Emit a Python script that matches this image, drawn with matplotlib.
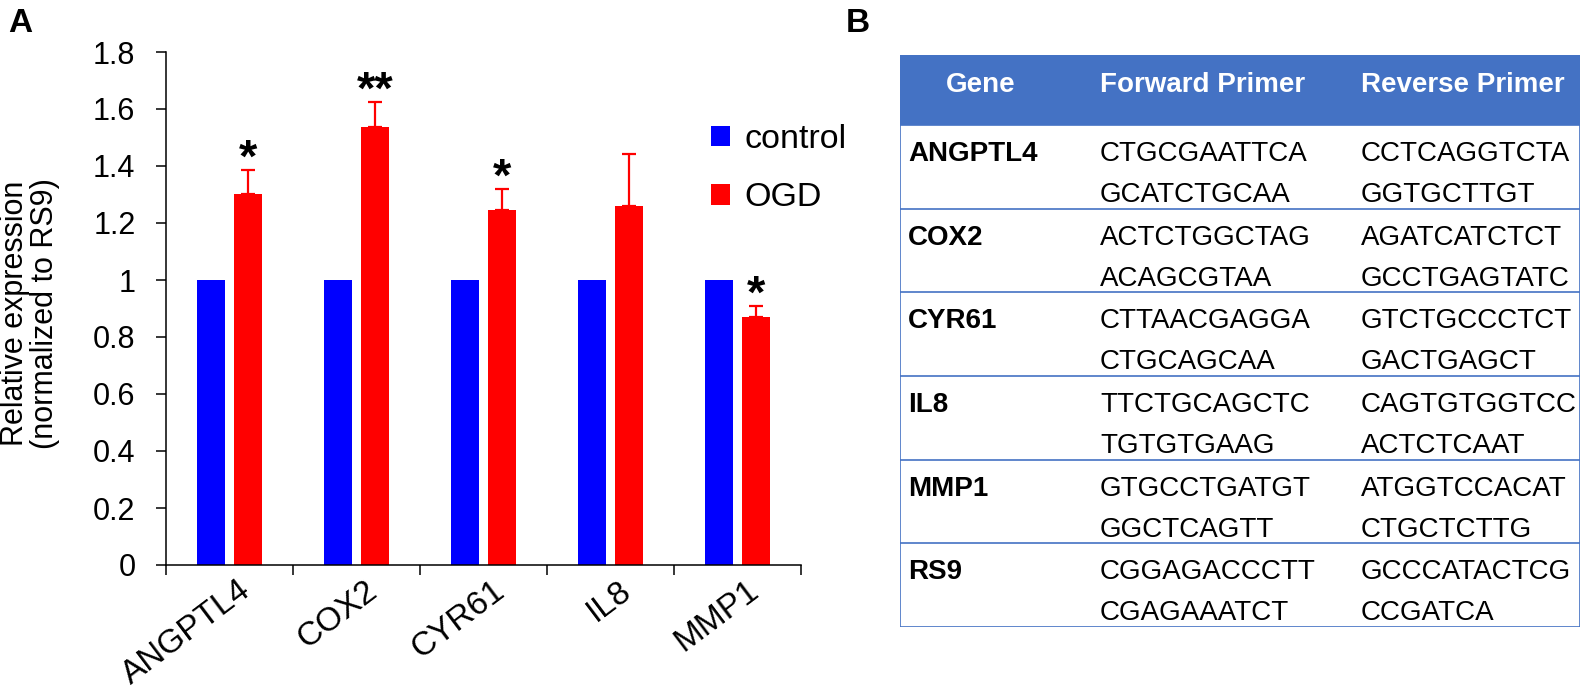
import numpy as np
import matplotlib
matplotlib.use('Agg')
import matplotlib.pyplot as plt
from matplotlib.patches import Rectangle
from matplotlib.ticker import FuncFormatter
from matplotlib.transforms import ScaledTranslation

plt.rcParams['font.family'] = ['Liberation Sans', 'DejaVu Sans']

# bar chart data
genes = ['ANGPTL4', 'COX2', 'CYR61', 'IL8', 'MMP1']
control = [1.0, 1.0, 1.0, 1.0, 1.0]
ogd = [1.302, 1.536, 1.246, 1.26, 0.87]
ogd_err = [0.084, 0.09, 0.074, 0.183, 0.04]
stars = ['*', '**', '*', '', '*']

# primer table
table_genes = ['ANGPTL4', 'COX2', 'CYR61', 'IL8', 'MMP1', 'RS9']
forward = [('CTGCGAATTCA', 'GCATCTGCAA'), ('ACTCTGGCTAG', 'ACAGCGTAA'),
           ('CTTAACGAGGA', 'CTGCAGCAA'), ('TTCTGCAGCTC', 'TGTGTGAAG'),
           ('GTGCCTGATGT', 'GGCTCAGTT'), ('CGGAGACCCTT', 'CGAGAAATCT')]
reverse = [('CCTCAGGTCTA', 'GGTGCTTGT'), ('AGATCATCTCT', 'GCCTGAGTATC'),
           ('GTCTGCCCTCT', 'GACTGAGCT'), ('CAGTGTGGTCC', 'ACTCTCAAT'),
           ('ATGGTCCACAT', 'CTGCTCTTG'), ('GCCCATACTCG', 'CCGATCA')]
headers = ['Gene', 'Forward Primer', 'Reverse Primer']

W, H = 1584, 690
fig = plt.figure(figsize=(W / 100, H / 100), dpi=100)

# ---- panel A ----
ax = fig.add_axes([166 / W, 1 - 565 / H, 635 / W, 513 / H])
x = np.arange(len(genes))
bw = 0.225
ax.bar(x - 0.145, control, bw, color='#0000FF', label='control')
ax.bar(x + 0.145, ogd, bw, color='#FF0000', label='OGD')
ax.errorbar(x + 0.145, ogd, yerr=[np.zeros(len(ogd)), ogd_err], fmt='none',
            ecolor='#FF0000', elinewidth=1.6, capsize=5, capthick=1.6)
for i, s in enumerate(stars):
    if s:
        ax.annotate(s, (x[i] + 0.145, ogd[i] + ogd_err[i]), xytext=(0, -1.5),
                    textcoords='offset points', ha='center', va='baseline',
                    fontsize=34, fontweight='bold')

ax.set_xlim(-0.5, len(genes) - 0.5)
ax.set_ylim(0, 1.8)
ax.set_yticks(np.arange(0, 1.81, 0.2))
ax.yaxis.set_major_formatter(FuncFormatter(lambda v, p: f'{v:g}'))
ax.set_xticks(np.arange(-0.5, len(genes), 1.0))
ax.set_xticklabels([])
ax.set_xticks(x, minor=True)
ax.set_xticklabels(genes, minor=True, rotation=37, ha='right',
                   rotation_mode='anchor', fontsize=24)
ax.tick_params(axis='x', which='minor', length=0, pad=7)
ax.tick_params(axis='x', which='major', length=7, width=1.1)
ax.tick_params(axis='y', length=7, width=1.1, labelsize=22, pad=15)
shift = ScaledTranslation(8 / 100, 0, fig.dpi_scale_trans)
for lbl in ax.get_xticklabels(minor=True):
    lbl.set_transform(lbl.get_transform() + shift)
for side in ['top', 'right']:
    ax.spines[side].set_visible(False)
for side in ['left', 'bottom']:
    ax.spines[side].set_linewidth(1.1)
ax.set_ylabel('Relative expression\n(normalized to RS9)', fontsize=22,
              linespacing=1.0)
ax.yaxis.set_label_coords((60 - 166) / 635, 0.49)

ax.legend(loc='upper left', bbox_to_anchor=(711 / W, 1 - 124 / H),
          bbox_transform=fig.transFigure, frameon=False, fontsize=24.5,
          handlelength=0.57, handleheight=0.57, handletextpad=0.42,
          labelspacing=0.8, borderpad=0, borderaxespad=0)

fig.text(8 / W, 1 - 8 / H, 'A', fontsize=24, fontweight='bold', va='top')
fig.text(846 / W, 1 - 8 / H, 'B', fontsize=24, fontweight='bold', va='top')

# ---- panel B: table ----
tw, th = 680, 572
head_h = 70
row_h = (th - head_h) / len(table_genes)
edge = '#4472C4'
axt = fig.add_axes([900 / W, 1 - 627 / H, tw / W, th / H])
axt.set_xlim(0, tw)
axt.set_ylim(th, 0)
axt.axis('off')
axt.add_patch(Rectangle((0, 0), tw, head_h, facecolor=edge, edgecolor=edge, lw=1.2))
axt.plot([0, 0, tw, tw], [head_h, th, th, head_h], color=edge, lw=1.2,
         solid_joinstyle='miter')
for i in range(1, len(table_genes)):
    yy = head_h + i * row_h
    axt.plot([0, tw], [yy, yy], color=edge, lw=1.2)

col_x = [81, 200, 461]
fs = 20
cap = 0.358 * fs / 0.72
axt.text(col_x[0], 27 + cap, headers[0], ha='center', va='baseline',
         color='white', fontsize=fs, fontweight='bold')
for cx, hd in zip(col_x[1:], headers[1:]):
    axt.text(cx, 27 + cap, hd, ha='left', va='baseline', color='white',
             fontsize=fs, fontweight='bold')

for i, g in enumerate(table_genes):
    top = head_h + i * row_h
    axt.text(8, top + 26 + cap, g, ha='left', va='baseline', fontsize=fs,
             fontweight='bold')
    for cx, seq in ((col_x[1], forward[i]), (col_x[2], reverse[i])):
        axt.text(cx, top + 26 + cap, seq[0], ha='left', va='baseline', fontsize=fs)
        axt.text(cx, top + 67 + cap, seq[1], ha='left', va='baseline', fontsize=fs)

fig.savefig('out.png', dpi=100)
